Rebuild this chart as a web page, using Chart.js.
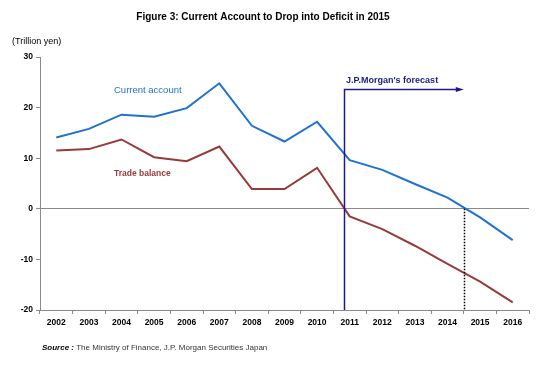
<!DOCTYPE html>
<html>
<head>
<meta charset="utf-8">
<script src="https://cdn.jsdelivr.net/npm/chart.js@4"></script>
<style>
  html, body { margin: 0; padding: 0; background: #fff; }
  canvas { display: block; }
</style>
</head>
<body>
<canvas id="chart" width="546" height="369"></canvas>
<script>
// Years on the x axis
const years = ['2002', '2003', '2004', '2005', '2006', '2007', '2008', '2009',
  '2010', '2011', '2012', '2013', '2014', '2015', '2016'];

// Trillion yen
const currentAccount = [14.1, 15.8, 18.6, 18.2, 19.9, 24.8, 16.4, 13.3,
  17.2, 9.6, 7.7, 4.9, 2.2, -1.7, -6.2];
const tradeBalance = [11.5, 11.8, 13.7, 10.2, 9.4, 12.3, 3.9, 3.9,
  8.1, -1.5, -4.0, -7.3, -10.9, -14.4, -18.5];

const yMin = -20;
const yMax = 30;
const yStep = 10;

const FONT = 'Arial, "Liberation Sans", sans-serif';
const BLUE = '#1f72cf';
const RED = '#963a3a';
const NAVY = '#1c1c86';
const AXIS = '#8a8a8a';

// Extra drawing: title, unit, source, forecast marker, series labels
const decorations = {
  id: 'decorations',
  afterDraw(chart) {
    const { ctx, scales: { x, y }, chartArea } = chart;
    ctx.save();

    // Title
    ctx.fillStyle = '#000';
    ctx.font = 'bold 10px ' + FONT;
    ctx.textAlign = 'center';
    ctx.textBaseline = 'middle';
    ctx.fillText('Figure 3: Current Account to Drop into Deficit in 2015', 263, 17);

    // Unit
    ctx.font = '9px ' + FONT;
    ctx.textAlign = 'left';
    ctx.fillText('(Trillion yen)', 12, 42);

    // Source
    ctx.font = 'italic bold 8px ' + FONT;
    ctx.fillText('Source :', 42, 348);
    const w = ctx.measureText('Source : ').width;
    ctx.font = '8px ' + FONT;
    ctx.fillStyle = '#333';
    ctx.fillText('The Ministry of Finance, J.P. Morgan Securities Japan', 42 + w, 348);

    // Forecast marker: vertical line + arrow
    const fx = Math.round(x.getPixelForValue(8.83)) + 0.5;
    const ex = x.getPixelForValue(12.5);
    const fy = Math.round(y.getPixelForValue(23.6)) + 0.5;
    ctx.strokeStyle = NAVY;
    ctx.lineWidth = 1.5;
    ctx.beginPath();
    ctx.moveTo(fx, chartArea.bottom);
    ctx.lineTo(fx, fy);
    ctx.lineTo(ex - 6, fy);
    ctx.stroke();
    ctx.fillStyle = NAVY;
    ctx.beginPath();
    ctx.moveTo(ex, fy);
    ctx.lineTo(ex - 8, fy - 2.5);
    ctx.lineTo(ex - 8, fy + 2.5);
    ctx.closePath();
    ctx.fill();

    ctx.font = 'bold 9px ' + FONT;
    ctx.textBaseline = 'middle';
    ctx.fillText("J.P.Morgan's forecast", x.getPixelForValue(8.89), y.getPixelForValue(25.3));

    // Break-even dotted line
    const dx = Math.round(ex) + 0.5;
    ctx.strokeStyle = '#000';
    ctx.lineWidth = 1.5;
    ctx.setLineDash([1.5, 1.5]);
    ctx.beginPath();
    ctx.moveTo(dx, y.getPixelForValue(0));
    ctx.lineTo(dx, chartArea.bottom);
    ctx.stroke();
    ctx.setLineDash([]);

    // Series labels
    ctx.font = '9.5px ' + FONT;
    ctx.fillStyle = BLUE;
    ctx.fillText('Current account', x.getPixelForValue(1.77), y.getPixelForValue(23.4));
    ctx.font = 'bold 8.5px ' + FONT;
    ctx.fillStyle = RED;
    ctx.fillText('Trade balance', x.getPixelForValue(1.77), y.getPixelForValue(6.9));

    ctx.restore();
  }
};

new Chart(document.getElementById('chart'), {
  type: 'line',
  data: {
    labels: years,
    datasets: [
      {
        label: 'Current account',
        data: currentAccount,
        borderColor: BLUE,
        borderWidth: 2,
        pointRadius: 0,
        tension: 0
      },
      {
        label: 'Trade balance',
        data: tradeBalance,
        borderColor: RED,
        borderWidth: 2,
        pointRadius: 0,
        tension: 0
      }
    ]
  },
  options: {
    responsive: false,
    devicePixelRatio: 1,
    animation: false,
    layout: {
      padding: { top: 57, right: 17, bottom: 35, left: 0 }
    },
    plugins: {
      legend: { display: false },
      tooltip: { enabled: false },
      title: { display: false }
    },
    scales: {
      x: {
        offset: true,
        afterFit(scale) { scale.height = 24; },
        border: { color: AXIS, width: 1 },
        grid: {
          offset: true,
          drawOnChartArea: false,
          color: AXIS,
          tickLength: 4
        },
        ticks: {
          color: '#000',
          padding: 4,
          maxRotation: 0,
          autoSkip: false,
          font: { family: FONT, size: 8.5, weight: 'bold' }
        }
      },
      y: {
        min: yMin,
        max: yMax,
        afterFit(scale) { scale.width = 40; },
        border: { color: AXIS, width: 1 },
        grid: {
          color: (c) => (c.tick && c.tick.value === 0 ? AXIS : 'transparent'),
          tickColor: AXIS,
          tickLength: 4
        },
        ticks: {
          stepSize: yStep,
          color: '#000',
          padding: 3,
          font: { family: FONT, size: 8.5, weight: 'bold' }
        }
      }
    }
  },
  plugins: [decorations]
});
</script>
</body>
</html>
